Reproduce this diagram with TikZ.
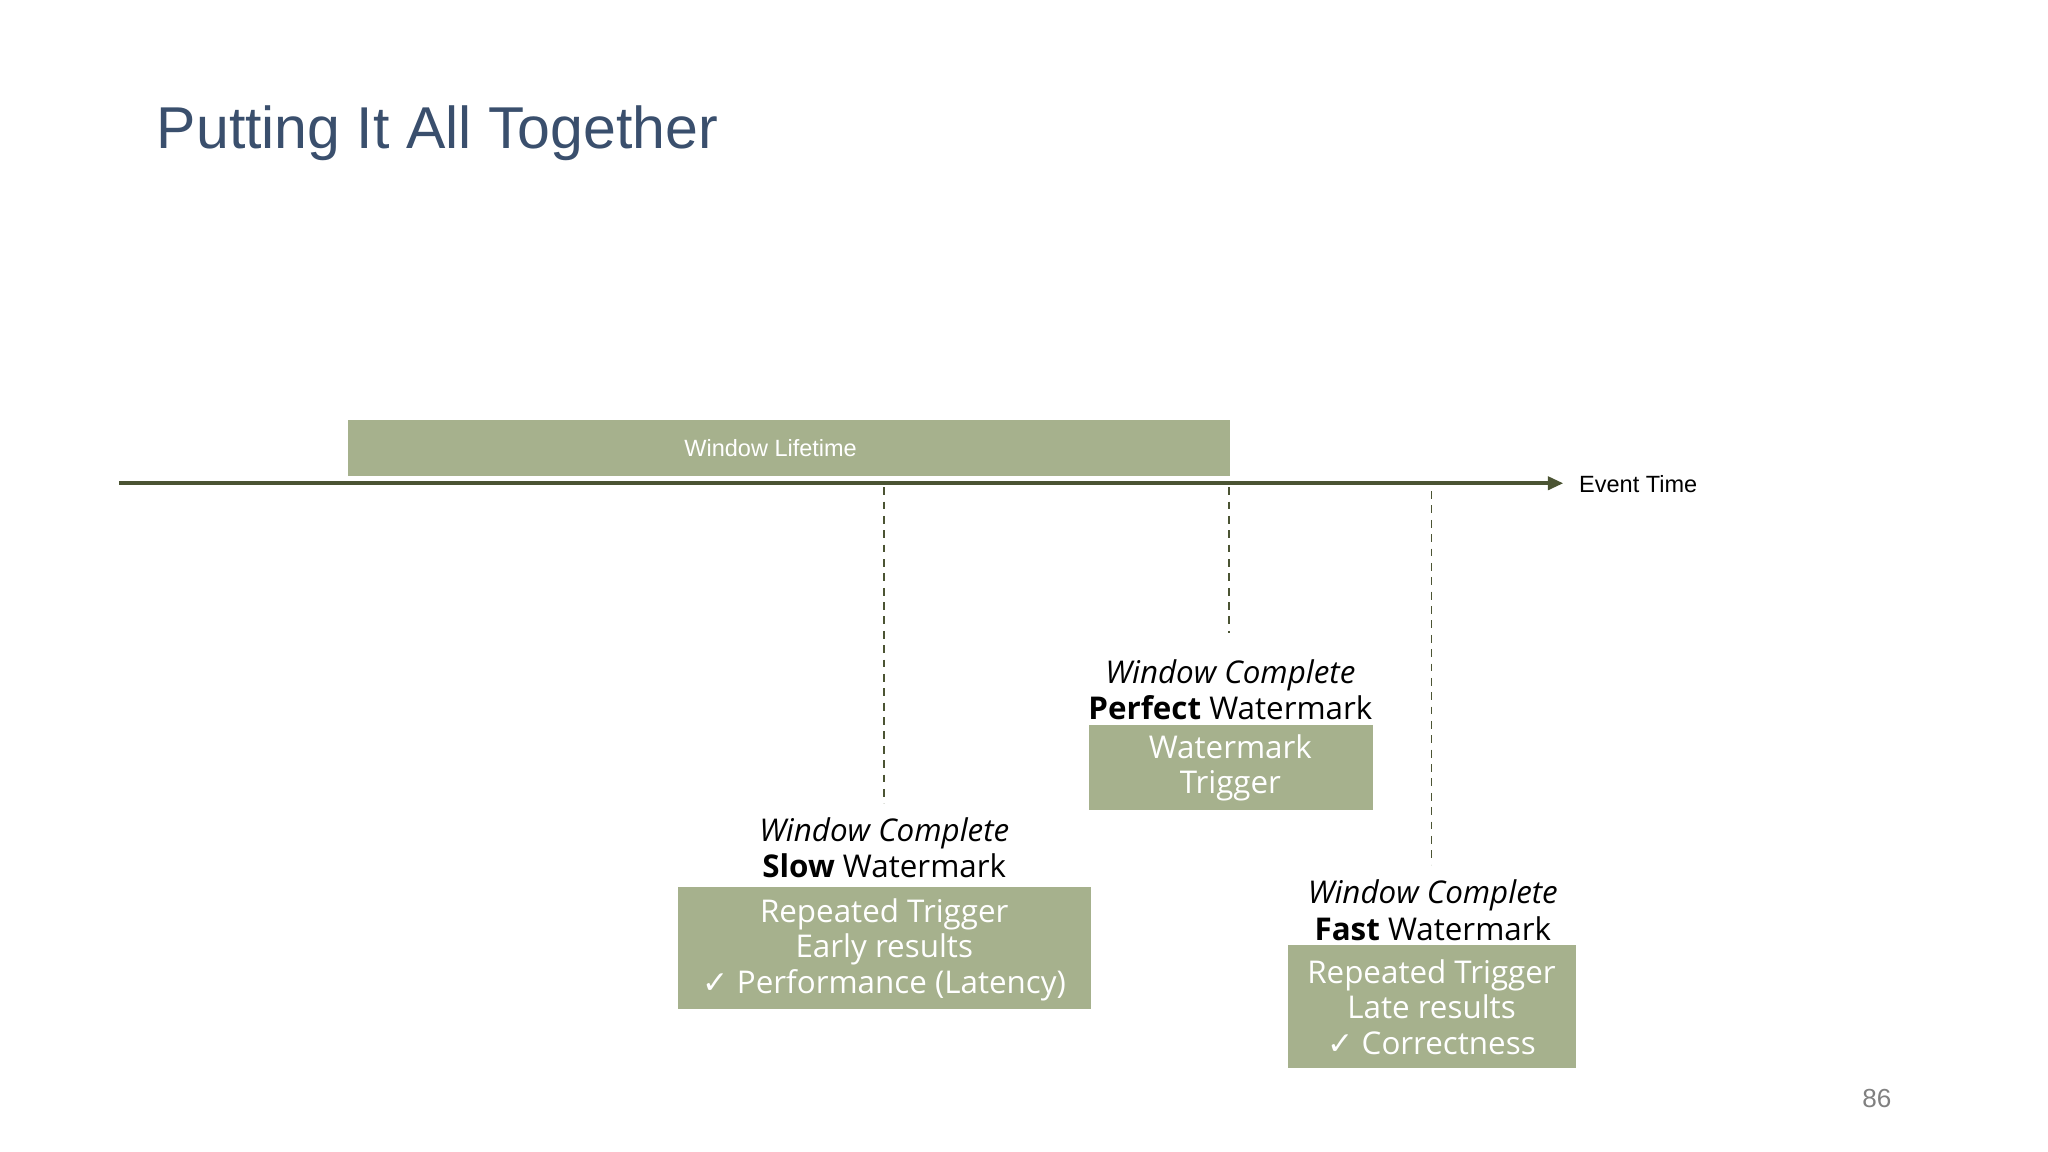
\documentclass[tikz,border=0pt]{standalone}
\usepackage{fontspec}
\setmainfont{Open Sans}
\newfontfamily\arialf{Liberation Sans}
\newfontfamily\djv{DejaVu Sans}
\newcommand{\chk}{{\djv ✓}}
\usetikzlibrary{arrows.meta}
\definecolor{boxg}{HTML}{A6B18D}
\definecolor{axisc}{HTML}{4B5433}
\definecolor{titlec}{HTML}{3A4F6D}
\begin{document}
\begin{tikzpicture}[x=0.5pt,y=-0.5pt,
  gbox/.style={fill=boxg,draw=none,text=white,align=center,font=\fontsize{12}{13.6}\selectfont,inner sep=0pt},
  lab/.style={align=center,font=\fontsize{12}{14}\selectfont,inner sep=0pt},
  dashln/.style={draw=axisc,line width=0.6pt,dash pattern=on 3pt off 2.5pt}]
\useasboundingbox (0,0) rectangle (1568,882);
\node[anchor=west,text=titlec,font=\arialf\fontsize{22.6}{26}\selectfont] (title) at (113,102) {Putting It All Together};
\node[fill=boxg,minimum width=337.5pt,minimum height=21.5pt,inner sep=0pt,anchor=north west] (wl) at (266,321) {};
\node[text=white,font=\arialf\fontsize{9}{10}\selectfont] (wlt) at (590,343) {Window Lifetime};
\coordinate (a0) at (91,370);
\coordinate (a1) at (1197,370);
\draw[axisc,line width=1.6pt,-{Triangle[length=6pt,width=5pt]}] (a0) -- (a1);
\node[anchor=west,font=\arialf\fontsize{9}{10}\selectfont] (et) at (1202,371) {Event Time};
% boxes
\node[gbox,minimum width=109pt,minimum height=32.5pt,anchor=north west] (pb) at (833,555) {};
\node[gbox] (pbt) at (942,588) {Watermark\\Trigger};
\node[gbox,minimum width=158pt,minimum height=46.5pt,anchor=north west] (sb) at (519,679) {};
\node[gbox] (sbt) at (677,727) {Repeated Trigger\\Early results\\\chk\ Performance (Latency)};
\node[gbox,minimum width=110pt,minimum height=47pt,anchor=north west] (fb) at (986,723) {};
\node[gbox] (fbt) at (1096,771) {Repeated Trigger\\Late results\\\chk\ Correctness};
% labels
\node[lab] (pl) at (942,528) {\textit{Window Complete}\\\textbf{Perfect} Watermark};
\node[lab] (sl) at (677,649) {\textit{Window Complete}\\\textbf{Slow} Watermark};
\node[lab] (fl) at (1097,697) {\textit{Window Complete}\\\textbf{Fast} Watermark};
% dashed
\coordinate (d1a) at (677,373); \coordinate (d1b) at (677,615);
\coordinate (d2a) at (941,373); \coordinate (d2b) at (941,485);
\coordinate (d3a) at (1096,376); \coordinate (d3b) at (1096,662);
\draw[dashln] (d1a) -- (d1b);
\draw[dashln] (d2a) -- (d2b);
\draw[dashln] (d3a) -- (d3b);
\node[text=gray,font=\arialf\fontsize{10}{11}\selectfont] (pg) at (1437,841) {86};
\end{tikzpicture}
\end{document}
